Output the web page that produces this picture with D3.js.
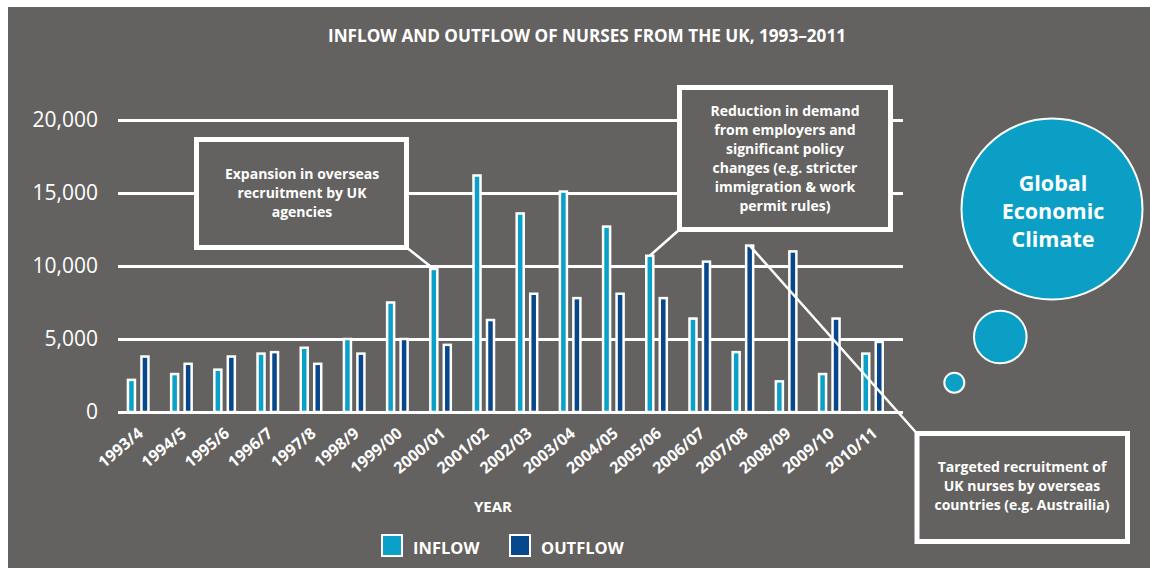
<!DOCTYPE html>
<html>
<head>
<meta charset="utf-8">
<script src="https://cdn.jsdelivr.net/npm/d3@7"></script>
<style>
  html, body { margin: 0; padding: 0; background: #ffffff; }
  svg { display: block; font-family: "Open Sans", "DejaVu Sans", sans-serif; }
</style>
</head>
<body>
<svg id="chart" width="1150" height="568"></svg>
<script>
// data
const years = ['1993/4', '1994/5', '1995/6', '1996/7', '1997/8', '1998/9', '1999/00', '2000/01',
  '2001/02', '2002/03', '2003/04', '2004/05', '2005/06', '2006/07', '2007/08', '2008/09',
  '2009/10', '2010/11'];
const inflow = [2200, 2600, 2900, 4000, 4400, 5000, 7500, 9800, 16200, 13600, 15100, 12700,
  10700, 6400, 4100, 2100, 2600, 4000];
const outflow = [3800, 3300, 3800, 4100, 3300, 4000, 5000, 4600, 6300, 8100, 7800, 8100,
  7800, 10300, 11400, 11000, 6400, 4800];
const yTicks = [0, 5000, 10000, 15000, 20000];
const seriesKeys = ['inflow', 'outflow'];
const seriesLabels = ['INFLOW', 'OUTFLOW'];

const title = 'INFLOW AND OUTFLOW OF NURSES FROM THE UK, 1993\u20132011';
const note1 = ['Expansion in overseas', 'recruitment by UK', 'agencies'];
const note2 = ['Reduction in demand', 'from employers and', 'significant policy',
  'changes (e.g. stricter', 'immigration & work', 'permit rules)'];
const note3 = ['Targeted recruitment of', 'UK nurses by overseas', 'countries (e.g. Austrailia)'];
const bubbleText = ['Global', 'Economic', 'Climate'];

const BG = '#646260';
const colors = { inflow: '#0aa0c8', outflow: '#07478c' };
const bubbleFill = '#0c9fc5';

const svg = d3.select('#chart');

// background panel
svg.append('rect')
  .attr('x', 8).attr('y', 7)
  .attr('width', 1142).attr('height', 561)
  .attr('fill', BG);

svg.append('text')
  .attr('x', 587).attr('y', 42)
  .attr('text-anchor', 'middle')
  .attr('fill', '#fff')
  .attr('font-weight', 700)
  .attr('font-size', 17)
  .attr('textLength', 518)
  .attr('lengthAdjust', 'spacingAndGlyphs')
  .text(title);

// scales
const left = 118, right = 903, base = 412;
const y = d3.scaleLinear().domain([0, 20000]).range([base, 120]);
const x0 = d3.scaleBand().domain(years).range([116.6, 894.1]);
const x1 = d3.scaleBand().domain(seriesKeys)
  .range([x0.bandwidth() / 2 - 10.25, x0.bandwidth() / 2 + 10.25])
  .paddingInner(0.48);

// y axis + gridlines
const yAxis = svg.append('g')
  .attr('transform', 'translate(' + left + ',0)')
  .call(d3.axisLeft(y).tickValues(yTicks).tickSize(-(right - left)).tickPadding(20)
    .tickFormat(d3.format(',')));
yAxis.select('.domain').remove();
yAxis.selectAll('line').attr('stroke', '#fff').attr('stroke-width', 3);
yAxis.selectAll('text')
  .attr('fill', '#fff')
  .attr('font-size', 21)
  .attr('font-family', '"Open Sans", sans-serif');

// x axis labels
const xAxis = svg.append('g')
  .attr('transform', 'translate(0,' + base + ')')
  .call(d3.axisBottom(x0).tickSize(0));
xAxis.select('.domain').remove();
xAxis.selectAll('text')
  .attr('x', 0).attr('y', 0).attr('dy', 0)
  .attr('transform', 'translate(6,23) rotate(-40)')
  .attr('text-anchor', 'end')
  .attr('fill', '#fff')
  .attr('font-size', 16)
  .attr('font-weight', 700)
  .attr('font-family', '"Open Sans", sans-serif');

svg.append('text')
  .attr('x', 493).attr('y', 512)
  .attr('text-anchor', 'middle')
  .attr('fill', '#fff')
  .attr('font-size', 15)
  .attr('font-weight', 700)
  .text('YEAR');

// note boxes (gray fill hides gridlines)
function noteBox(x, yTop, w, h, lines, cx, firstY, lh) {
  svg.append('rect')
    .attr('x', x).attr('y', yTop)
    .attr('width', w).attr('height', h)
    .attr('fill', BG)
    .attr('stroke', '#fff')
    .attr('stroke-width', 5);
  const t = svg.append('text')
    .attr('text-anchor', 'middle')
    .attr('fill', '#fff')
    .attr('font-size', 14)
    .attr('font-weight', 700);
  lines.forEach(function (s, i) {
    t.append('tspan').attr('x', cx).attr('y', firstY + i * lh).text(s);
  });
}

noteBox(196.5, 139.5, 210, 108, note1, 302, 179, 19);
noteBox(679.5, 87.5, 211, 142, note2, 785, 115.5, 19);
noteBox(917, 433.5, 210.5, 108, note3, 1022, 472, 19);

// bars
const rows = years.map(function (yr, i) {
  return { year: yr, inflow: inflow[i], outflow: outflow[i] };
});

const groups = svg.append('g').selectAll('g')
  .data(rows)
  .join('g')
  .attr('transform', function (d) { return 'translate(' + x0(d.year) + ',0)'; });

groups.selectAll('rect')
  .data(function (d) { return seriesKeys.map(function (k) { return { key: k, value: d[k] }; }); })
  .join('rect')
  .attr('x', function (d) { return x1(d.key); })
  .attr('y', function (d) { return y(d.value); })
  .attr('width', x1.bandwidth())
  .attr('height', function (d) { return base - y(d.value); })
  .attr('fill', function (d) { return colors[d.key]; })
  .attr('stroke', '#fff')
  .attr('stroke-width', 2.5);

// connectors from the notes to the bars
function barTop(year, key) {
  const i = years.indexOf(year);
  const v = key === 'inflow' ? inflow[i] : outflow[i];
  return [x0(year) + x1(key) + x1.bandwidth() / 2, y(v)];
}

const c1 = barTop('2000/01', 'inflow');
const c2 = barTop('2005/06', 'inflow');
const c3 = barTop('2007/08', 'outflow');
const connectors = [
  [[406, 247], c1],
  [[679.5, 229.5], c2],
  [c3, [917, 433.5]]
];
svg.append('g').selectAll('line')
  .data(connectors)
  .join('line')
  .attr('x1', function (d) { return d[0][0]; })
  .attr('y1', function (d) { return d[0][1]; })
  .attr('x2', function (d) { return d[1][0]; })
  .attr('y2', function (d) { return d[1][1]; })
  .attr('stroke', '#fff')
  .attr('stroke-width', 2.5);

// thought bubbles
const bubbles = [[954.3, 382.7, 10], [1000.3, 337, 26.3], [1052, 209, 90.5]];
svg.append('g').selectAll('circle')
  .data(bubbles)
  .join('circle')
  .attr('cx', function (d) { return d[0]; })
  .attr('cy', function (d) { return d[1]; })
  .attr('r', function (d) { return d[2]; })
  .attr('fill', bubbleFill)
  .attr('stroke', '#fff')
  .attr('stroke-width', 2);

const bt = svg.append('text')
  .attr('text-anchor', 'middle')
  .attr('fill', '#fff')
  .attr('font-size', 21.5)
  .attr('font-weight', 700);
bubbleText.forEach(function (s, i) {
  bt.append('tspan').attr('x', 1053).attr('y', 191 + i * 28).text(s);
});

// legend
const legendX = [382, 510];
const legend = svg.append('g').selectAll('g')
  .data(seriesKeys)
  .join('g')
  .attr('transform', function (d, i) { return 'translate(' + legendX[i] + ',535)'; });
legend.append('rect')
  .attr('width', 20).attr('height', 21)
  .attr('fill', function (d) { return colors[d]; })
  .attr('stroke', '#fff')
  .attr('stroke-width', 2);
legend.append('text')
  .attr('x', 31).attr('y', 18.5)
  .attr('fill', '#fff')
  .attr('font-size', 16.5)
  .attr('font-weight', 700)
  .text(function (d, i) { return seriesLabels[i]; });
</script>
</body>
</html>
